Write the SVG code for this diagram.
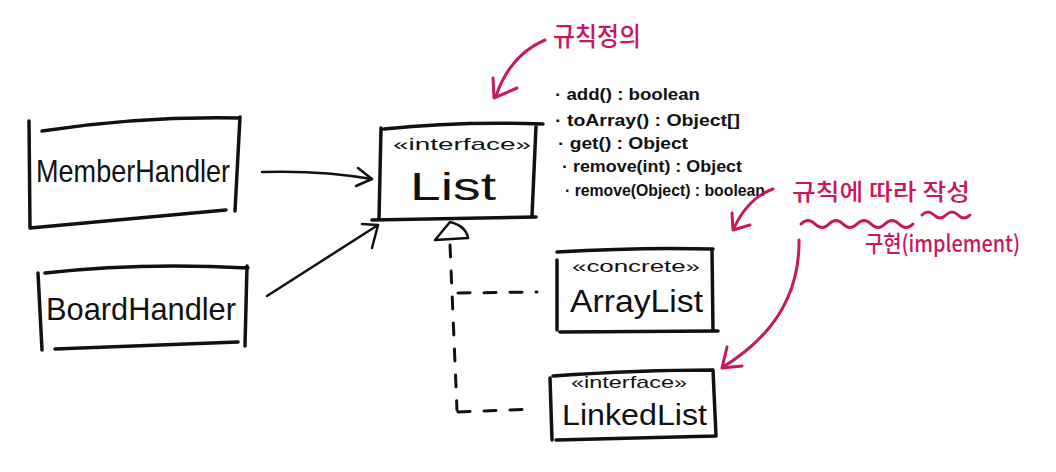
<svg xmlns="http://www.w3.org/2000/svg" width="1056" height="472" viewBox="0 0 1056 472">
<style>
.box{fill:none;stroke:#111;stroke-width:3.5;stroke-linecap:round;stroke-linejoin:round}
.ln{fill:none;stroke:#111;stroke-width:2.5;stroke-linecap:round;stroke-linejoin:round}
.dash{fill:none;stroke:#111;stroke-width:3;stroke-linecap:round;stroke-dasharray:12 14}
.pk{fill:none;stroke:#c8175d;stroke-width:3;stroke-linecap:round;stroke-linejoin:round}
.name{font-family:"Liberation Sans",Arial,sans-serif;fill:#111}
.st{font-family:"Liberation Sans",Arial,sans-serif;fill:#111;font-size:17px}
.m{font-family:"Liberation Sans",Arial,sans-serif;fill:#111;font-size:16px;font-weight:bold}
.ko{font-family:"Noto Sans CJK KR","Liberation Sans",sans-serif;fill:#c8175d;font-weight:500}
</style>
<rect width="1056" height="472" fill="#ffffff"/>
<g id="connectors">
<path class="ln" d="M262,172 Q320,170 372,179"/>
<path class="ln" d="M358,168 L372,179 L356,186"/>
<path class="ln" d="M267,296 L378,225"/>
<path class="ln" d="M362,224 L378,225 L372,248"/>
<path class="ln" d="M435,240 L450,222 Q466,226 468,238 Z" fill="#fff"/>
<path class="dash" d="M450,245 L457,410"/>
<path class="dash" d="M458,293 L537,292"/>
<path class="dash" d="M458,412 L532,409"/>
</g>
<g id="MemberHandler">
<path class="box" d="M29,121 L30,228 M42,131 Q140,116 240,118 M240,117 L235,211 M30,228 L226,210"/>
<text class="name" x="36" y="182" font-size="32" textLength="194" lengthAdjust="spacingAndGlyphs">MemberHandler</text>
</g>
<g id="BoardHandler">
<path class="box" d="M38,273 L42,350 M45,273 Q140,262 248,268 M247,266 L245,346 M55,349 L238,342"/>
<text class="name" x="46" y="320" font-size="32" textLength="190" lengthAdjust="spacingAndGlyphs">BoardHandler</text>
</g>
<g id="List">
<path class="box" d="M381,128 L379,219 M384,129 Q460,121 543,124 M536,126 L532,216 M372,220 L536,217"/>
<text class="st" x="393" y="150" textLength="138" lengthAdjust="spacingAndGlyphs">«interface»</text>
<text class="name" x="410" y="200" font-size="38" textLength="86" lengthAdjust="spacingAndGlyphs">List</text>
</g>
<g id="ListMethods">
<text class="m" x="555" y="100" textLength="145" lengthAdjust="spacingAndGlyphs">· add() : boolean</text>
<text class="m" x="555" y="126" textLength="185" lengthAdjust="spacingAndGlyphs">· toArray() : Object[]</text>
<text class="m" x="558" y="149" textLength="130" lengthAdjust="spacingAndGlyphs">· get() : Object</text>
<text class="m" x="562" y="172" textLength="180" lengthAdjust="spacingAndGlyphs">· remove(int) : Object</text>
<text class="m" x="565" y="196" textLength="200" lengthAdjust="spacingAndGlyphs">· remove(Object) : boolean</text>
</g>
<g id="ArrayList">
<path class="box" d="M557,260 L557,330 M557,252 Q640,247 713,249 M712,250 L713,330 M560,332 L718,331"/>
<text class="st" x="572" y="272" textLength="128" lengthAdjust="spacingAndGlyphs">«concrete»</text>
<text class="name" x="570" y="312" font-size="32" textLength="133" lengthAdjust="spacingAndGlyphs">ArrayList</text>
</g>
<g id="LinkedList">
<path class="box" d="M550,378 L552,440 M553,376 Q640,370 712,370 M713,370 L716,436 M556,440 L716,436"/>
<text class="st" x="571" y="388" textLength="116" lengthAdjust="spacingAndGlyphs">«interface»</text>
<text class="name" x="562" y="425" font-size="30" textLength="145" lengthAdjust="spacingAndGlyphs">LinkedList</text>
</g>
<g id="note-rule-definition">
<path class="pk" d="M545,40 Q510,55 496,96"/>
<path class="pk" d="M493,78 L494,98 L517,88"/>
<text class="ko" x="553" y="46" font-size="26" textLength="88" lengthAdjust="spacingAndGlyphs">규칙정의</text>
</g>
<g id="note-implement">
<path class="pk" d="M773,189 Q748,198 734,228"/>
<path class="pk" d="M732,213 L733,230 L750,225"/>
<text class="ko" x="792" y="200" font-size="23" textLength="178" lengthAdjust="spacingAndGlyphs">규칙에 따라 작성</text>
<path class="pk" d="M801,224 q7,-7 14,0 t14,0 t14,0 t14,0 t14,0 t14,0 t14,0 t14,0"/>
<path class="pk" d="M922,215 q6,-6 12,0 t12,0 t12,0 t12,0"/>
<text class="ko" x="865" y="252" font-size="23" textLength="155" lengthAdjust="spacingAndGlyphs">구현(implement)</text>
<path class="pk" d="M799,240 Q800,320 723,367"/>
<path class="pk" d="M727,347 L722,368 L742,366"/>
</g>
</svg>
